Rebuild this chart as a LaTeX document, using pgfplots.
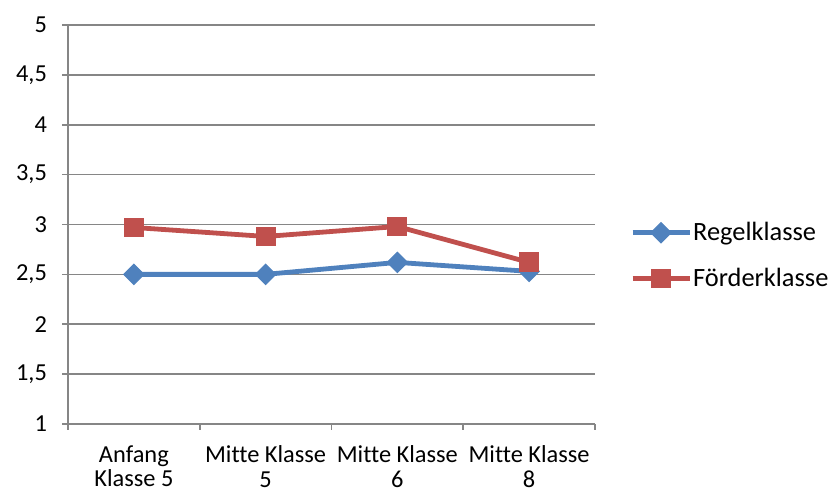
\documentclass[border=0pt]{standalone}
\usepackage{fontspec}
\setmainfont{Carlito}[Ligatures=NoCommon]
\usepackage{pgfplots}
\pgfplotsset{compat=1.18}

\definecolor{regel}{HTML}{4F81BD}
\definecolor{foerder}{HTML}{C0504D}
\definecolor{gridgray}{HTML}{868686}

\begin{document}
\begin{tikzpicture}
\useasboundingbox (0,0) rectangle (416pt,245.5pt);
\begin{axis}[
  at={(34pt,33.5pt)}, anchor=south west,
  scale only axis, width=263.5pt, height=199.5pt,
  xmin=0.5, xmax=4.5, ymin=1, ymax=5,
  axis x line=bottom, axis y line=left,
  axis line style={gridgray, line width=0.8pt, -},
  ytick={1,1.5,...,5},
  yticklabels={1,{1,5},2,{2,5},3,{3,5},4,{4,5},5},
  ymajorgrids, major grid style={gridgray, line width=0.8pt},
  xtick={1,2,3,4},
  xticklabels={{Anfang\\Klasse 5},{Mitte Klasse\\5},{Mitte Klasse\\6},{Mitte Klasse\\8}},
  minor xtick={0.5,1.5,...,4.5},
  major x tick style={draw=none},
  minor tick length=3pt,
  minor x tick style={gridgray, line width=0.8pt},
  major tick length=3pt,
  major y tick style={gridgray, line width=0.8pt},
  tick align=outside,
  ticklabel style={font=\fontsize{12.2}{13}\selectfont, text=black},
  xticklabel style={align=center, inner sep=0pt, yshift=-7.5pt,
    font=\fontsize{12.2}{12.4}\selectfont},
  yticklabel style={xshift=-4pt},
  clip=false,
  legend cell align=left,
  legend style={at={(1.066,0.422)}, anchor=west, draw=none, fill=none,
    font=\fontsize{13.2}{14}\selectfont, row sep=11pt, inner sep=0pt,
    nodes={inner sep=0.6pt}},
  legend image code/.code={
    \draw[mark repeat=2, mark phase=2, #1]
      plot coordinates {(0pt,0pt) (14.25pt,0pt) (28.5pt,0pt)};},
]
\addplot[regel, line width=2.4pt, mark=square*, mark size=3.6pt,
  mark options={rotate=45, fill=regel, draw=regel, line width=0.5pt}]
  coordinates {(1,2.50) (2,2.50) (3,2.62) (4,2.53)};
\addlegendentry{Regelklasse}
\addplot[foerder, line width=2.4pt, mark=square*, mark size=4.7pt,
  mark options={fill=foerder, draw=foerder, line width=0.5pt}]
  coordinates {(1,2.97) (2,2.88) (3,2.98) (4,2.62)};
\addlegendentry{Förderklasse}
\end{axis}
\end{tikzpicture}
\end{document}
